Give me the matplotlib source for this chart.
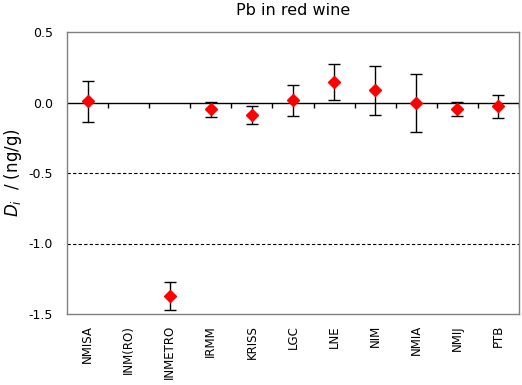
import matplotlib
matplotlib.use("Agg")
import matplotlib.pyplot as plt
import numpy as np

labs = ["NMISA", "INM(RO)", "INMETRO", "IRMM", "KRISS", "LGC",
        "LNE", "NIM", "NMIA", "NMIJ", "PTB"]
# None = no reported result
d_i = [0.01, None, -1.37, -0.048, -0.09, 0.015, 0.143, 0.087, -0.004, -0.048, -0.027]
unc = [0.145, None, 0.10, 0.055, 0.063, 0.11, 0.127, 0.175, 0.204, 0.05, 0.083]

fig = plt.figure(figsize=(5.22, 3.85), dpi=100)
ax = fig.add_axes([67 / 522, 1 - 314 / 385, 452 / 522, 282 / 385])

xpos = np.arange(len(labs)) + 0.5
xs = [x for x, v in zip(xpos, d_i) if v is not None]
ys = [v for v in d_i if v is not None]
es = [u for u in unc if u is not None]

ax.axhline(-0.5, color="k", ls=(0, (3, 2)), lw=0.8, zorder=1)
ax.axhline(-1.0, color="k", ls=(0, (3, 2)), lw=0.8, zorder=1)
ax.axhline(0, color="k", lw=1, zorder=1)
# category tick marks on the zero line
bounds = np.arange(1, len(labs) + 1)
ax.vlines(bounds, -0.038, 0, color="k", lw=1, zorder=1)

ax.errorbar(xs, ys, yerr=es, fmt="none", ecolor="k", elinewidth=1,
            capsize=4, capthick=1, zorder=2)
ax.plot(xs, ys, "D", color="red", ms=6.5, mec="red", zorder=3)

ax.set_xlim(0, len(labs))
ax.set_ylim(-1.5, 0.5)
ax.set_yticks([0.5, 0.0, -0.5, -1.0, -1.5])
ax.set_yticklabels(["0.5", "0.0", "-0.5", "-1.0", "-1.5"], fontsize=9)
ax.tick_params(axis="y", length=0, pad=10)
ax.set_xticks(xpos)
ax.set_xticklabels(labs, rotation=90, fontsize=8.5)
ax.tick_params(axis="x", length=0, pad=8)

for s in ax.spines.values():
    s.set_color("#808080")
    s.set_linewidth(1)

ax.set_ylabel(r"$D_i$  / (ng/g)", fontsize=12)
ax.yaxis.set_label_coords(-43 / 452, 0.5)
ax.set_title("Pb in red wine", fontsize=11.5, pad=12)

fig.savefig("out.png", dpi=100)
